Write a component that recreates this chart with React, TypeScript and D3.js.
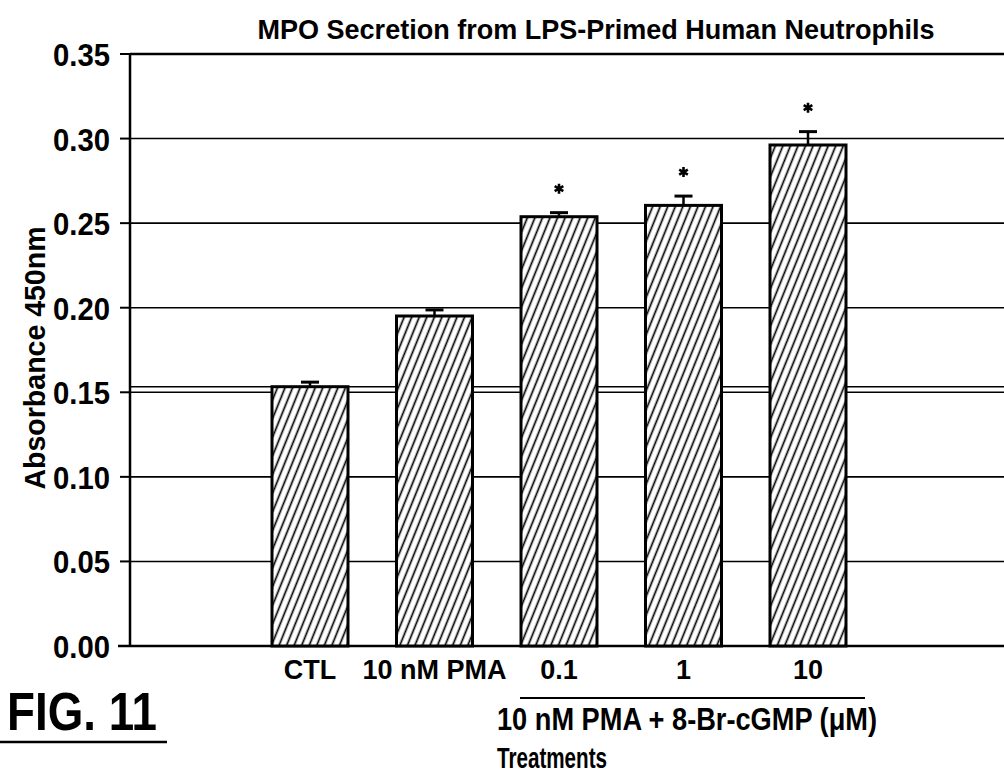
import React from "react";
import * as d3 from "d3";

const categories = ["CTL", "10 nM PMA", "0.1", "1", "10"];
const means = [0.1533, 0.1951, 0.2538, 0.2605, 0.2962];
const errors = [0.0027, 0.0036, 0.0024, 0.0055, 0.0079];
const significant = [false, false, true, true, true];
const yTicks = [0, 0.05, 0.1, 0.15, 0.2, 0.25, 0.3, 0.35];

const W = 1004;
const H = 782;
const FONT = "'Liberation Sans Narrow', 'Liberation Sans', Arial, sans-serif";

export default function App() {
  const left = 130;
  const right = 1004;
  const y = d3.scaleLinear().domain([0, 0.35]).range([646, 54]);
  const x = d3.scalePoint<string>().domain(categories).range([310, 808]);
  const barW = 76;
  const ctlLevel = means[0];
  const star = d3.symbol(d3.symbolAsterisk, 70)() || "";

  return (
    <svg
      width={W}
      height={H}
      style={{ position: "absolute", left: 0, top: 0, background: "#fff" }}
      fontFamily={FONT}
      fontWeight="bold"
    >
      <defs>
        <pattern
          id="hatch"
          width={7}
          height={7}
          patternUnits="userSpaceOnUse"
          patternTransform="rotate(22)"
        >
          <rect width={7} height={7} fill="#fff" />
          <line x1={3.5} y1={0} x2={3.5} y2={7} stroke="#000" strokeWidth={1.7} />
        </pattern>
      </defs>

      {/* title */}
      <text x={596} y={39} textAnchor="middle" fontSize={28} textLength={677} lengthAdjust="spacingAndGlyphs">
        MPO Secretion from LPS-Primed Human Neutrophils
      </text>

      {/* grid + ticks */}
      {yTicks.map((t) => (
        <g key={t}>
          {t > 0 && (
            <line x1={left} x2={right} y1={y(t)} y2={y(t)} stroke="#000" strokeWidth={t === 0.35 ? 2.5 : 1.6} />
          )}
          <line x1={t === 0 ? 118 : 120} x2={left} y1={y(t)} y2={y(t)} stroke="#000" strokeWidth={2} />
          <text x={110} y={y(t) + 12} textAnchor="end" fontSize={32} textLength={57} lengthAdjust="spacingAndGlyphs">
            {t.toFixed(2)}
          </text>
        </g>
      ))}

      {/* control reference line */}
      <line x1={left} x2={right} y1={y(ctlLevel)} y2={y(ctlLevel)} stroke="#000" strokeWidth={1.6} />

      {/* axes */}
      <line x1={left} x2={left} y1={y(0.35)} y2={y(0)} stroke="#000" strokeWidth={2.5} />
      <line x1={118} x2={right} y1={y(0)} y2={y(0)} stroke="#000" strokeWidth={2.5} />

      {/* bars */}
      {categories.map((c, i) => {
        const cx = x(c) as number;
        const top = y(means[i]);
        const errTop = y(means[i] + errors[i]);
        return (
          <g key={c}>
            <line x1={cx} x2={cx} y1={top} y2={errTop} stroke="#000" strokeWidth={2.5} />
            <line x1={cx - 9} x2={cx + 9} y1={errTop} y2={errTop} stroke="#000" strokeWidth={3} />
            <rect
              x={cx - barW / 2}
              y={top}
              width={barW}
              height={y(0) - top}
              fill="url(#hatch)"
              stroke="#000"
              strokeWidth={3}
            />
            {significant[i] && (
              <path d={star} transform={`translate(${cx},${errTop - 24})`} stroke="#000" strokeWidth={2.6} fill="none" />
            )}
            <text x={cx} y={679} textAnchor="middle" fontSize={27}>
              {c}
            </text>
          </g>
        );
      })}

      {/* y label */}
      <text
        transform="translate(45,358) rotate(-90)"
        textAnchor="middle"
        fontSize={30}
        textLength={263}
        lengthAdjust="spacingAndGlyphs"
      >
        Absorbance 450nm
      </text>

      {/* group bracket */}
      <line x1={520} x2={865} y1={698} y2={698} stroke="#000" strokeWidth={2} />
      <text x={687} y={730} textAnchor="middle" fontSize={32} textLength={380} lengthAdjust="spacingAndGlyphs">
        10 nM PMA + 8-Br-cGMP (μM)
      </text>
      <text x={552} y={768} textAnchor="middle" fontSize={30} textLength={110} lengthAdjust="spacingAndGlyphs">
        Treatments
      </text>

      {/* figure label */}
      <text x={7} y={730} fontSize={53} textLength={150} lengthAdjust="spacingAndGlyphs">
        FIG. 11
      </text>
      <line x1={0} x2={167} y1={742} y2={742} stroke="#000" strokeWidth={2.5} />
    </svg>
  );
}
